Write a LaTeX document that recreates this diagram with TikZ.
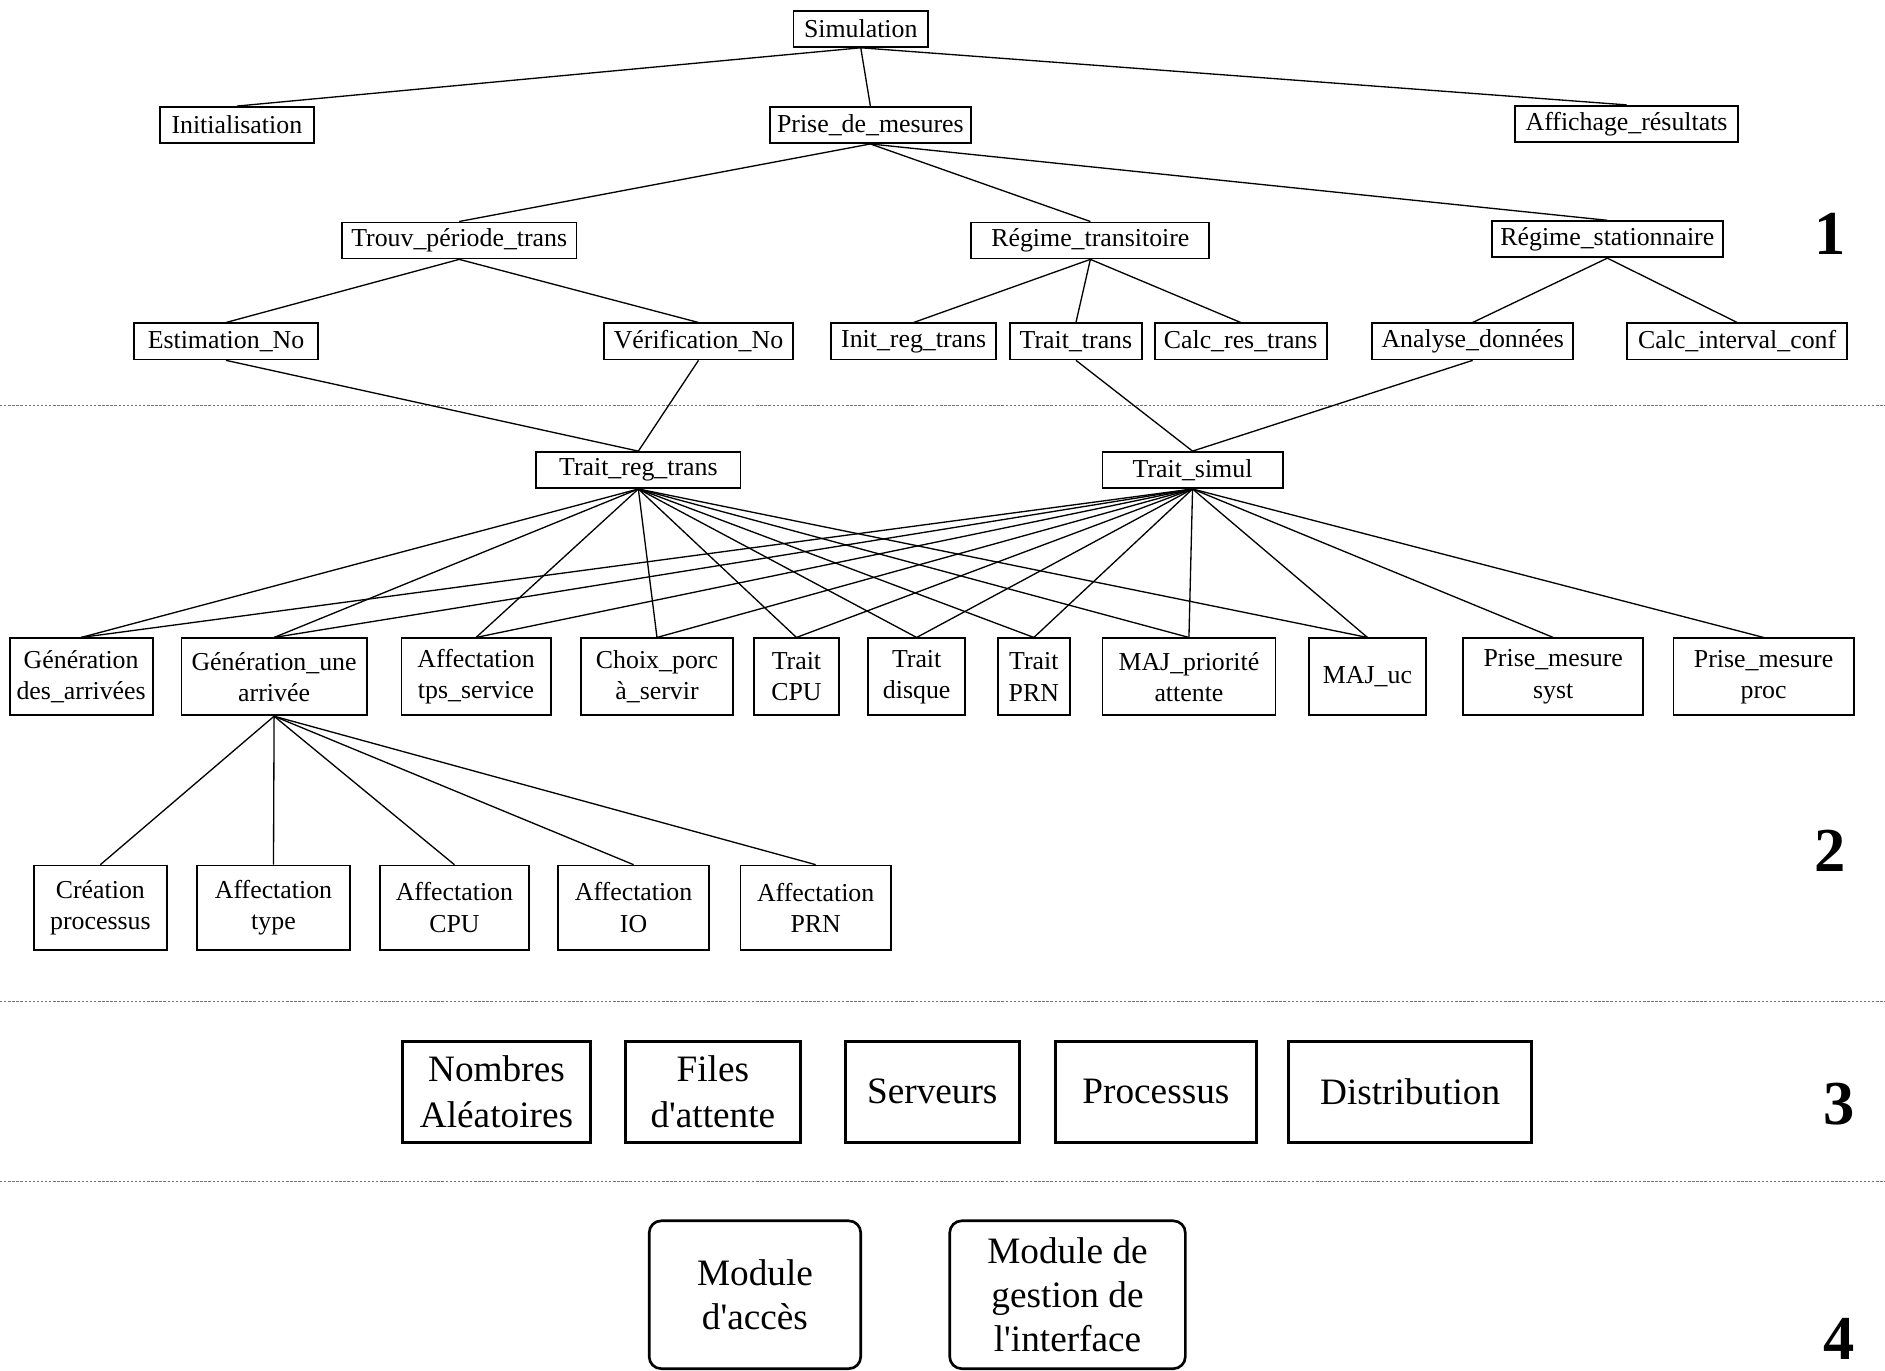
\documentclass[tikz,border=0pt]{standalone}
\usepackage{fontspec}
\newfontfamily\tfont{Liberation Serif}
\begin{document}
\begin{tikzpicture}[x=0.5pt,y=-0.5pt,
  box/.style={draw, line width=0.75pt, inner sep=0pt, minimum height=15pt, font=\fontsize{10.75pt}{13pt}\tfont, align=center},
  boxtwo/.style={box, minimum height=32pt},
  boxthree/.style={box, minimum height=35pt},
  bigbox/.style={draw, line width=1.3pt, inner sep=0pt, minimum height=42pt, font=\fontsize{15.5pt}{19pt}\tfont, align=center},
  modbox/.style={draw, line width=1.1pt, rounded corners=5pt, inner sep=0pt, minimum height=61.5pt, font=\fontsize{15.5pt}{18.5pt}\tfont, align=center},
  lvl/.style={font=\fontsize{26pt}{26pt}\tfont\bfseries, anchor=base, inner sep=0pt},
  sepline/.style={black!55, line width=0.5pt, dash pattern=on 1pt off 0.7pt},
  link/.style={line width=0.55pt}]
\useasboundingbox (0,0) rectangle (1568,1140);
\fill[white] (0,0) rectangle (1568,1140);

% level 1 tree
\node[box, minimum width=56pt] (sim) at (716,24) {Simulation};
\node[box, minimum width=64pt] (ini) at (197,104) {Initialisation};
\node[box, minimum width=83.5pt] (pdm) at (724,104) {Prise\_de\_mesures};
\node[box, minimum width=93pt] (aff) at (1353,103) {Affichage\_résultats};
\node[box, minimum width=97.5pt] (tpt) at (382,200) {Trouv\_période\_trans};
\node[box, minimum width=99pt] (rtr) at (907,200) {Régime\_transitoire};
\node[box, minimum width=96pt] (rst) at (1337,199) {Régime\_stationnaire};
\node[box, minimum width=76.5pt] (est) at (188,284) {Estimation\_No};
\node[box, minimum width=78.5pt] (ver) at (581,284) {Vérification\_No};
\node[box, minimum width=68.5pt] (irt) at (760,284) {Init\_reg\_trans};
\node[box, minimum width=55pt] (ttr) at (895,284) {Trait\_trans};
\node[box, minimum width=71.5pt] (crt) at (1032,284) {Calc\_res\_trans};
\node[box, minimum width=83.5pt] (ana) at (1225,284) {Analyse\_données};
\node[box, minimum width=91.5pt] (cic) at (1445,284) {Calc\_interval\_conf};

\draw[link] (sim.south) -- (ini.north);
\draw[link] (sim.south) -- (pdm.north);
\draw[link] (sim.south) -- (aff.north);
\draw[link] (pdm.south) -- (tpt.north);
\draw[link] (pdm.south) -- (rtr.north);
\draw[link] (pdm.south) -- (rst.north);
\draw[link] (tpt.south) -- (est.north);
\draw[link] (tpt.south) -- (ver.north);
\draw[link] (rtr.south) -- (irt.north);
\draw[link] (rtr.south) -- (ttr.north);
\draw[link] (rtr.south) -- (crt.north);
\draw[link] (rst.south) -- (ana.north);
\draw[link] (rst.south) -- (cic.north);

\node[lvl] (l1) at (1522,212) {1};
\coordinate (s1a) at (0,337);
\coordinate (s1b) at (1568,337);
\draw[sepline] (s1a) -- (s1b);

% level 2
\node[box, minimum width=85pt] (trt) at (531,391) {Trait\_reg\_trans};
\node[box, minimum width=75pt] (tsi) at (992,391) {Trait\_simul};
\draw[link] (est.south) -- (trt.north);
\draw[link] (ver.south) -- (trt.north);
\draw[link] (ttr.south) -- (tsi.north);
\draw[link] (ana.south) -- (tsi.north);

\node[boxtwo, minimum width=59.5pt] (gda) at (67.5,563) {Génération\\des\_arrivées};
\node[boxtwo, minimum width=77pt] (gua) at (228,563) {Génération\_une\\arrivée};
\node[boxtwo, minimum width=62pt] (ats) at (396,563) {Affectation\\tps\_service};
\node[boxtwo, minimum width=63.5pt] (cpa) at (546.5,563) {Choix\_porc\\à\_servir};
\node[boxtwo, minimum width=35.5pt] (tcp) at (662.5,563) {Trait\\CPU};
\node[boxtwo, minimum width=40.5pt] (tdi) at (762.5,563) {Trait\\disque};
\node[boxtwo, minimum width=30pt] (tpr) at (860,563) {Trait\\PRN};
\node[boxtwo, minimum width=72pt] (mpa) at (989,563) {MAJ\_priorité\\attente};
\node[boxtwo, minimum width=48.5pt] (muc) at (1137.5,563) {MAJ\_uc};
\node[boxtwo, minimum width=75pt] (pms) at (1292,563) {Prise\_mesure\\syst};
\node[boxtwo, minimum width=75pt] (pmp) at (1467,563) {Prise\_mesure\\proc};

\foreach \c in {gda,gua,ats,cpa,tcp,tdi,tpr,mpa,muc}
  \draw[link] (trt.south) -- (\c.north);
\foreach \c in {gda,gua,ats,cpa,tcp,tdi,tpr,mpa,muc,pms,pmp}
  \draw[link] (tsi.south) -- (\c.north);

\node[boxthree, minimum width=55.5pt] (cpr) at (83.5,755) {Création\\processus};
\node[boxthree, minimum width=63.5pt] (aty) at (227.5,755) {Affectation\\type};
\node[boxthree, minimum width=62pt] (acp) at (378,755) {Affectation\\CPU};
\node[boxthree, minimum width=63pt] (aio) at (527,755) {Affectation\\IO};
\node[boxthree, minimum width=62.5pt] (apr) at (678.5,755) {Affectation\\PRN};
\foreach \c in {cpr,aty,acp,aio,apr}
  \draw[link] (gua.south) -- (\c.north);

\node[lvl] (l2) at (1522,725) {2};
\coordinate (s2a) at (0,833);
\coordinate (s2b) at (1568,833);
\draw[sepline] (s2a) -- (s2b);

% level 3
\node[bigbox, minimum width=78pt] (nal) at (413,908) {Nombres\\Aléatoires};
\node[bigbox, minimum width=73pt] (fat) at (593,908) {Files\\d'attente};
\node[bigbox, minimum width=72.5pt] (ser) at (775.5,908) {Serveurs};
\node[bigbox, minimum width=83.5pt] (pro) at (961.5,908) {Processus};
\node[bigbox, minimum width=101pt] (dis) at (1173,908) {Distribution};
\node[lvl] (l3) at (1530,935) {3};
\coordinate (s3a) at (0,983);
\coordinate (s3b) at (1568,983);
\draw[sepline] (s3a) -- (s3b);

% level 4
\node[modbox, minimum width=88pt] (mac) at (628,1077) {Module\\d'accès};
\node[modbox, minimum width=98pt] (mgi) at (888,1077) {Module de\\gestion de\\l'interface};
\node[lvl] (l4) at (1530,1131) {4};
\end{tikzpicture}
\end{document}
